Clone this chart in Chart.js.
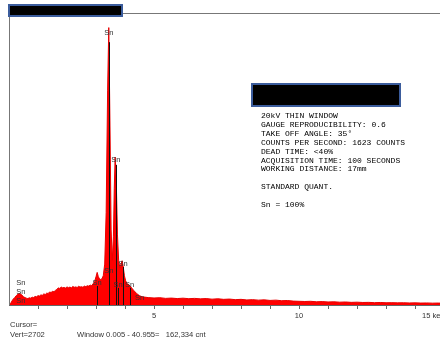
<!DOCTYPE html>
<html>
<head>
<meta charset="utf-8">
<script src="https://cdn.jsdelivr.net/npm/chart.js@4/dist/chart.umd.min.js"></script>
<style>
  body { margin: 0; background: #fff; }
  #wrap { position: relative; width: 440px; height: 340px; overflow: hidden; }
  .redact { position: absolute; background: #000; border: 2px solid #3b5c9c; box-sizing: border-box; }
  #info { position: absolute; left: 261px; top: 112px; margin: 0; font: 8px/8.9px "Liberation Mono", monospace; color: #000; white-space: pre; }
  .foot { position: absolute; font: 7.6px "Liberation Sans", Arial, sans-serif; color: #333; white-space: pre; }
</style>
</head>
<body>
<div id="wrap">
  <canvas id="spec"></canvas>
  <div class="redact" style="left:8px;top:4px;width:115px;height:13px"></div>
  <div class="redact" style="left:251px;top:83px;width:150px;height:24px"></div>
  <pre id="info">20kV THIN WINDOW
GAUGE REPRODUCIBILITY: 0.6
TAKE OFF ANGLE: 35°
COUNTS PER SECOND: 1623 COUNTS
DEAD TIME: &lt;40%
ACQUISITION TIME: 100 SECONDS
WORKING DISTANCE: 17mm

STANDARD QUANT.

Sn = 100%</pre>
  <div class="foot" style="left:10px;top:320px">Cursor=</div>
  <div class="foot" style="left:10px;top:330px">Vert=2702</div>
  <div class="foot" style="left:77px;top:330px">Window 0.005 - 40.955=   162,334 cnt</div>
</div>
<script>
// Spektrum (keV / pulsy)
const energyKeV = [
  0, 0.05, 0.1, 0.15, 0.2, 0.25, 0.3, 0.35, 0.4, 0.45, 0.5, 0.55,
  0.6, 0.65, 0.7, 0.75, 0.8, 0.85, 0.9, 0.95, 1.0, 1.05, 1.1, 1.15, 1.2, 1.25, 1.3, 1.35, 1.4, 1.45,
  1.5, 1.55, 1.6, 1.65, 1.7, 1.75, 1.8, 1.85, 1.9, 1.95, 2.0, 2.05, 2.1, 2.15, 2.2, 2.25, 2.3, 2.35,
  2.4, 2.45, 2.5, 2.55, 2.6, 2.65, 2.7, 2.75, 2.8, 2.85, 2.9, 2.95,
  3.0, 3.04, 3.08, 3.12, 3.16, 3.2, 3.25, 3.3, 3.35, 3.4, 3.44, 3.48, 3.52, 3.56, 3.6, 3.63, 3.66, 3.7,
  3.74, 3.78, 3.82, 3.86, 3.9, 3.94, 3.98, 4.02, 4.06, 4.1, 4.14, 4.2, 4.3, 4.4, 4.5, 4.6, 4.8,
  5.0, 5.2, 5.4, 5.6, 5.8, 6.0, 6.2, 6.4, 6.6, 6.8, 7.0, 7.2, 7.4, 7.6, 7.8, 8.0, 8.2, 8.4, 8.6, 8.8,
  9.0, 9.2, 9.4, 9.6, 9.8, 10.0, 10.2, 10.4, 10.6, 10.8, 11.0, 11.2, 11.4, 11.6, 11.8, 12.0, 12.2, 12.4,
  12.6, 12.8, 13.0, 13.2, 13.4, 13.6, 13.8, 14.0, 14.2, 14.4, 14.6, 14.8, 14.9
];
const counts = [
  0, 12, 40, 62, 78, 96, 110, 118, 112, 100, 86, 76,
  70, 66, 74, 70, 80, 76, 88, 84, 96, 92, 104, 100, 114, 108, 122, 118, 134, 128,
  140, 136, 150, 160, 176, 170, 184, 176, 180, 174, 186, 178, 184, 176, 190, 182, 186, 180,
  192, 184, 188, 182, 194, 188, 198, 194, 204, 200, 218, 240,
  290, 335, 290, 270, 262, 268, 300, 420, 950, 2200, 2850, 1900, 780, 460, 700, 1200, 1520, 1250,
  720, 460, 380, 420, 455, 390, 300, 250, 225, 212, 205, 185, 150, 118, 95, 84, 76,
  72, 75, 68, 71, 66, 70, 65, 68, 63, 66, 60, 64, 58, 61, 55, 58, 52, 55, 50, 53,
  47, 50, 44, 46, 40, 38, 36, 38, 33, 35, 31, 33, 29, 31, 27, 29, 26, 27,
  24, 26, 23, 24, 22, 23, 21, 22, 20, 21, 19, 20, 19
];

// Značky čar Sn
const markerKeV = [0.41, 0.41, 0.41, 3.04, 3.44, 3.44, 3.68, 3.76, 3.93, 4.16, 4.5];
const markerLabelCounts = [226, 134, 41, 226, 349, 2793, 1489, 205, 421, 205, 72];
const markerLineTop = [null, null, null, 195, null, 2700, 1440, 175, 390, 175, null];
const markerText = 'Sn';

// Osa X
const xTicks = [1, 2, 3, 4, 5, 6, 7, 8, 9, 10, 11, 12, 13, 14];
const xTickLabels = { 5: '5', 10: '10' };
const xMax = 14.86;
const yMax = 3000;

const decor = {
  id: 'decor',
  beforeDraw(chart) {
    const { ctx } = chart;
    ctx.save();
    ctx.fillStyle = '#fff';
    ctx.fillRect(0, 0, chart.width, chart.height);
    ctx.restore();
  },
  afterDatasetsDraw(chart) {
    const { ctx, chartArea: a, scales: { x, y } } = chart;
    ctx.save();
    // čáry prvků
    ctx.strokeStyle = '#111';
    ctx.lineWidth = 1;
    markerKeV.forEach((e, i) => {
      if (markerLineTop[i] == null) return;
      const px = Math.round(x.getPixelForValue(e)) + 0.5;
      ctx.beginPath();
      ctx.moveTo(px, y.getPixelForValue(0));
      ctx.lineTo(px, y.getPixelForValue(markerLineTop[i]));
      ctx.stroke();
    });
    ctx.font = '7.5px "Liberation Sans", Arial, sans-serif';
    ctx.fillStyle = '#333';
    ctx.textAlign = 'center';
    ctx.textBaseline = 'middle';
    markerKeV.forEach((e, i) => {
      ctx.fillText(markerText, x.getPixelForValue(e), y.getPixelForValue(markerLabelCounts[i]));
    });
    // osy
    ctx.strokeStyle = '#777';
    ctx.beginPath();
    ctx.moveTo(a.left + 0.5, a.top);
    ctx.lineTo(a.left + 0.5, a.bottom);
    ctx.moveTo(a.left, a.top + 0.5);
    ctx.lineTo(a.right, a.top + 0.5);
    ctx.stroke();
    ctx.strokeStyle = '#666';
    ctx.beginPath();
    ctx.moveTo(a.left, a.bottom + 0.5);
    ctx.lineTo(a.right, a.bottom + 0.5);
    xTicks.forEach(t => {
      const px = Math.round(x.getPixelForValue(t)) + 0.5;
      ctx.moveTo(px, a.bottom);
      ctx.lineTo(px, a.bottom + 4);
    });
    ctx.stroke();
    ctx.font = '7.5px "Liberation Sans", Arial, sans-serif';
    ctx.fillStyle = '#333';
    ctx.textBaseline = 'top';
    Object.keys(xTickLabels).forEach(k => {
      ctx.fillText(xTickLabels[k], x.getPixelForValue(+k), a.bottom + 7);
    });
    ctx.textAlign = 'left';
    ctx.fillText('15 keV', x.getPixelForValue(15) - 22, a.bottom + 7);
    ctx.restore();
  }
};

new Chart(document.getElementById('spec'), {
  type: 'line',
  data: {
    datasets: [{
      data: energyKeV.map((e, i) => ({ x: e, y: counts[i] })),
      borderColor: '#e80000',
      backgroundColor: '#ff0000',
      borderWidth: 1,
      fill: 'origin',
      pointRadius: 0,
      tension: 0,
    }],
  },
  options: {
    responsive: true,
    maintainAspectRatio: false,
    animation: false,
    layout: { padding: { left: 9, top: 13, right: 0, bottom: 35 } },
    plugins: { legend: { display: false }, tooltip: { enabled: false } },
    scales: {
      x: { type: 'linear', min: 0, max: xMax, display: false },
      y: { min: 0, max: yMax, display: false },
    },
  },
  plugins: [decor],
});
</script>
</body>
</html>
